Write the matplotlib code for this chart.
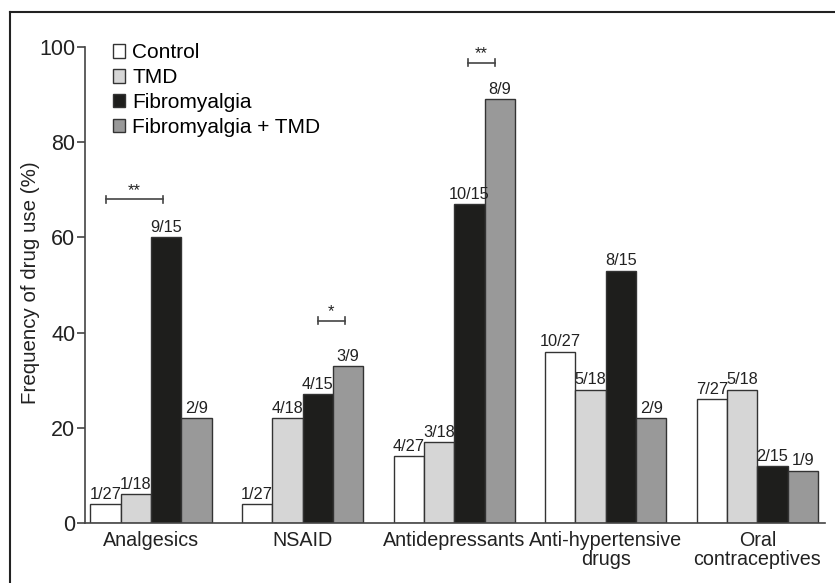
import matplotlib
matplotlib.use('Agg')
import matplotlib.pyplot as plt
import numpy as np

plt.rcParams['font.family'] = ['Liberation Sans', 'DejaVu Sans']

# Данные: категории, группы и частоты (%)
categories = ['Analgesics', 'NSAID', 'Antidepressants', 'Anti-hypertensive\ndrugs', 'Oral\ncontraceptives']
groups = ['Control', 'TMD', 'Fibromyalgia', 'Fibromyalgia + TMD']
colors = ['#ffffff', '#d6d6d6', '#1e1e1c', '#999999']

control = [4, 4, 14, 36, 26]
tmd = [6, 22, 17, 28, 28]
fibro = [60, 27, 67, 53, 12]
fibro_tmd = [22, 33, 89, 22, 11]

control_lbl = ['1/27', '1/27', '4/27', '10/27', '7/27']
tmd_lbl = ['1/18', '4/18', '3/18', '5/18', '5/18']
fibro_lbl = ['9/15', '4/15', '10/15', '8/15', '2/15']
fibro_tmd_lbl = ['2/9', '3/9', '8/9', '2/9', '1/9']

# Скобки значимости: (x начала, x конца, y, подпись)
sig_x0 = [-1.5, 5.5, 10.45]
sig_x1 = [0.4, 6.4, 11.35]
sig_y = [68, 42.5, 96.7]
sig_txt = ['**', '*', '**']

series = [control, tmd, fibro, fibro_tmd]
labels = [control_lbl, tmd_lbl, fibro_lbl, fibro_tmd_lbl]

fig = plt.figure(figsize=(8.35, 5.83), dpi=100)
ax = fig.add_axes([0.1018, 0.1029, 0.8862, 0.8165])

centers = np.arange(len(categories)) * 5.0
offsets = [-1.5, -0.5, 0.5, 1.5]
handles = []
for i in range(4):
    x = centers + offsets[i]
    b = ax.bar(x, series[i], width=1.0, color=colors[i], edgecolor='#333333', linewidth=1.0, label=groups[i])
    handles.append(b)
    for xx, v, t in zip(x, series[i], labels[i]):
        ax.text(xx, v + 0.5, t, ha='center', va='bottom', fontsize=11.8, color='#222222')

# Скобки значимости
for x0, x1, y, t in zip(sig_x0, sig_x1, sig_y, sig_txt):
    ax.plot([x0, x1], [y, y], color='#444444', lw=1.2)
    ax.plot([x0, x0], [y - 0.7, y + 0.7], color='#444444', lw=1.2)
    ax.plot([x1, x1], [y - 0.7, y + 0.7], color='#444444', lw=1.2)
    ax.text((x0 + x1) / 2, y + 0.3, t, ha='center', va='bottom', fontsize=12, color='#222222')

ax.set_xlim(-2.18, 22.23)
ax.set_ylim(0, 100)
ax.set_yticks([0, 20, 40, 60, 80, 100])
ax.set_xticks(centers)
ax.set_xticklabels(categories, fontsize=14.2, color='#222222', linespacing=1.0)
ax.tick_params(axis='x', length=0, pad=6)
ax.tick_params(axis='y', length=6, width=1.2, color='#444444', labelsize=15.5, labelcolor='#222222', pad=1)
ax.spines['top'].set_visible(False)
ax.spines['right'].set_visible(False)
ax.spines['left'].set_color('#444444')
ax.spines['bottom'].set_color('#444444')
ax.spines['left'].set_linewidth(1.2)
ax.spines['bottom'].set_linewidth(1.2)
ax.set_ylabel('Frequency of drug use (%)', fontsize=14.8, color='#222222')
ax.yaxis.set_label_coords(-0.061, 0.505)

ax.legend(handles=handles, loc='upper left', bbox_to_anchor=(0.026, 1.025), frameon=False,
          fontsize=15, handlelength=0.6, handleheight=0.6, handletextpad=0.35,
          labelspacing=0.28, borderaxespad=0)

# Рамка вокруг рисунка (верх и лево)
fig.add_artist(plt.Line2D([10 / 835, 1], [1 - 12 / 583, 1 - 12 / 583], color='#222222', lw=1.5, transform=fig.transFigure))
fig.add_artist(plt.Line2D([10 / 835, 10 / 835], [0, 1 - 12 / 583], color='#222222', lw=1.5, transform=fig.transFigure))

fig.savefig('out.png', dpi=100)
